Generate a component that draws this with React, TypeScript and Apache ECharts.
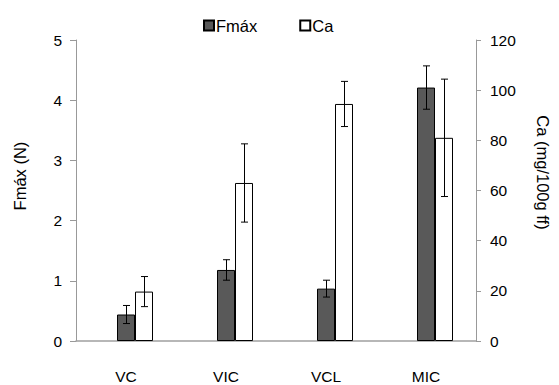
import React, { useEffect, useRef } from "react";
import * as echarts from "echarts";

const categories = ["VC", "VIC", "VCL", "MIC"];
const fmaxValues = [0.44, 1.18, 0.87, 4.21];
const fmaxErrors = [0.15, 0.17, 0.14, 0.36];
const caValues = [19.7, 63, 94.5, 81];
const caErrors = [6, 15.6, 9, 23.4];
const leftTicks = { min: 0, max: 5, interval: 1 };
const rightTicks = { min: 0, max: 120, interval: 20 };

const FONT = "Liberation Sans, Arial, sans-serif";
const TICK_FS = 15.5;
const TITLE_FS = 16.5;
const BAR_W = 18;

function errorSeries(name: string, values: number[], errors: number[], yAxisIndex: number, offset: number) {
  return {
    type: "custom",
    name: name + "_err",
    yAxisIndex,
    silent: true,
    z: 10,
    data: values.map((v, i) => [i, v, errors[i]]),
    renderItem: (params: any, api: any) => {
      const i = api.value(0);
      const v = api.value(1);
      const e = api.value(2);
      const top = api.coord([i, v + e]);
      const bot = api.coord([i, v - e]);
      const x = Math.round(top[0] + offset) + 0.5;
      const cap = 3.5;
      const style = { stroke: "#000", lineWidth: 1 };
      return {
        type: "group",
        children: [
          { type: "line", shape: { x1: x, y1: top[1], x2: x, y2: bot[1] }, style },
          { type: "line", shape: { x1: x - cap, y1: top[1], x2: x + cap, y2: top[1] }, style },
          { type: "line", shape: { x1: x - cap, y1: bot[1], x2: x + cap, y2: bot[1] }, style },
        ],
      };
    },
  };
}

export default function App() {
  const ref = useRef<HTMLDivElement>(null);
  useEffect(() => {
    const chart = echarts.init(ref.current!, null, { renderer: "svg" });
    const axisLabel = { color: "#000", fontSize: TICK_FS, fontFamily: FONT };
    const titleStyle = { color: "#000", fontSize: TITLE_FS, fontFamily: FONT };
    chart.setOption({
      animation: false,
      backgroundColor: "#fff",
      textStyle: { fontFamily: FONT },
      legend: {
        top: 12,
        left: 198,
        itemWidth: 10,
        itemHeight: 10,
        itemGap: 42,
        textStyle: { ...titleStyle, padding: [0, 0, 0, -3] },
        data: [
          { name: "Fmáx", icon: "rect" },
          { name: "Ca", icon: "rect" },
        ],
      },
      grid: { left: 76, right: 80, top: 40, bottom: 44 },
      xAxis: {
        type: "category",
        data: categories,
        axisLine: { lineStyle: { color: "#a0a0a0", width: 1.5 } },
        axisTick: { show: false },
        axisLabel: { ...axisLabel, margin: 27 },
      },
      yAxis: [
        {
          type: "value",
          ...leftTicks,
          name: "Fmáx (N)",
          nameLocation: "middle",
          nameGap: 48,
          nameTextStyle: { ...titleStyle, padding: [0, 0, 0, 29] },
          axisLine: { show: true, lineStyle: { color: "#999", width: 1 } },
          axisTick: { show: true, length: 6, lineStyle: { color: "#999" } },
          splitLine: { show: false },
          axisLabel: { ...axisLabel, margin: 14 },
        },
        {
          type: "value",
          ...rightTicks,
          position: "right",
          name: "Ca (mg/100g ff)",
          nameLocation: "middle",
          nameGap: 58,
          nameRotate: -90,
          nameTextStyle: { ...titleStyle, padding: [0, 36, 0, 0] },
          axisLine: { show: true, lineStyle: { color: "#999", width: 1 } },
          axisTick: { show: true, length: 5, lineStyle: { color: "#999" } },
          splitLine: { show: false },
          axisLabel: { ...axisLabel, margin: 14 },
        },
      ],
      series: [
        {
          type: "bar",
          name: "_pad",
          yAxisIndex: 0,
          data: categories.map(() => "-"),
          barWidth: BAR_W,
          barGap: "0%",
          silent: true,
        },
        {
          type: "bar",
          name: "Fmáx",
          yAxisIndex: 0,
          data: fmaxValues,
          barWidth: BAR_W,
          barGap: "0%",
          itemStyle: { color: "#595959", borderColor: "#000", borderWidth: 1 },
        },
        {
          type: "bar",
          name: "Ca",
          yAxisIndex: 1,
          data: caValues,
          barWidth: BAR_W,
          barGap: "0%",
          itemStyle: { color: "#fff", borderColor: "#000", borderWidth: 1 },
        },
        errorSeries("Fmáx", fmaxValues, fmaxErrors, 0, 0),
        errorSeries("Ca", caValues, caErrors, 1, BAR_W),
      ],
    });
    return () => chart.dispose();
  }, []);
  return <div ref={ref} style={{ position: "fixed", left: 0, top: 0, width: 559, height: 385 }} />;
}
